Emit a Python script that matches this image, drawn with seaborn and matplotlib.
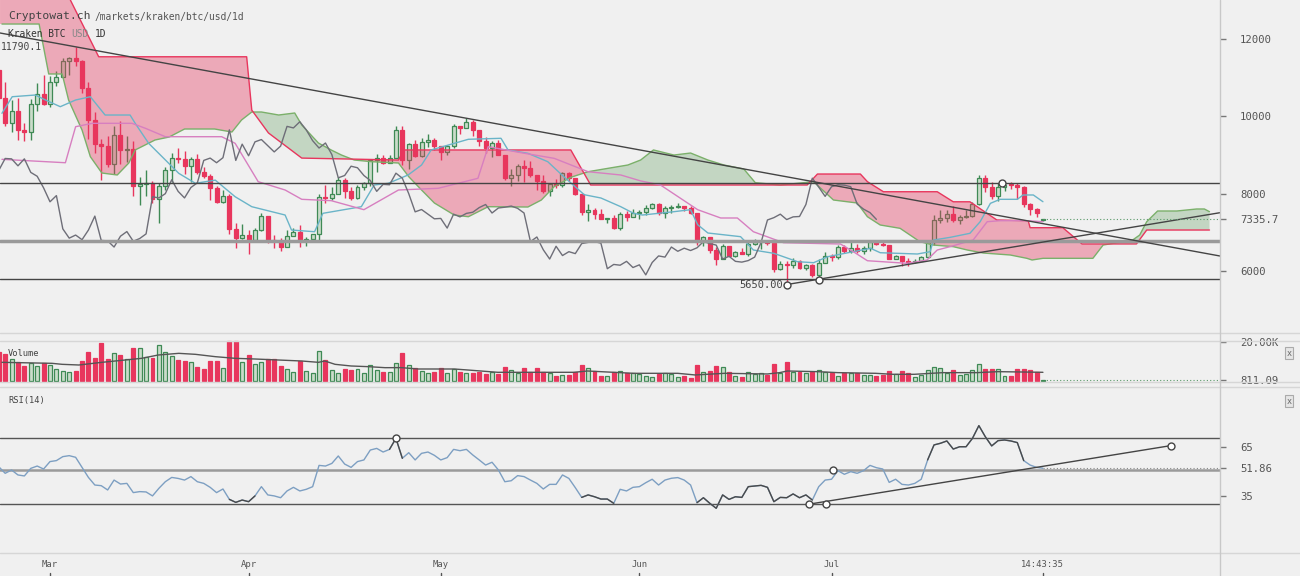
import numpy as np
import seaborn as sns
import matplotlib.pyplot as plt
from matplotlib.lines import Line2D

# Kraken BTC/USD daily candles, 21 Feb 2018 .. 3 Aug 2018
opens = [11200, 10470, 9830, 10150, 9650, 9590, 10320, 10570, 10320, 10900,
         11010, 11430, 11500, 11430, 10720, 9900, 9280, 9230, 8770, 9530,
         9140, 9150, 8200, 8260, 8270, 7870, 8200, 8600, 8910, 8900,
         8720, 8900, 8550, 8450, 8150, 7790, 7950, 7090, 6850, 6930,
         6810, 7060, 7420, 6790, 6780, 6620, 6900, 7020, 6770, 6840,
         6960, 7920, 7890, 8000, 8360, 8060, 7890, 8160, 8280, 8860,
         8920, 8800, 8930, 9650, 8860, 9280, 8980, 9340, 9400, 9240,
         9080, 9230, 9740, 9700, 9860, 9650, 9370, 9180, 9310, 9010,
         8410, 8470, 8710, 8670, 8470, 8340, 8060, 8240, 8230, 8530,
         8400, 8000, 7530, 7590, 7470, 7350, 7360, 7110, 7470, 7400,
         7490, 7520, 7640, 7720, 7500, 7630, 7650, 7680, 7620, 7500,
         6760, 6880, 6550, 6310, 6640, 6400, 6500, 6450, 6710, 6740,
         6760, 6720, 6060, 6170, 6150, 6250, 6090, 6160, 5900, 6220,
         6390, 6360, 6620, 6510, 6590, 6530, 6600, 6760, 6710, 6670,
         6310, 6380, 6250, 6230, 6270, 6360, 6740, 7320, 7380, 7470,
         7330, 7400, 7410, 7720, 8400, 8170, 7930, 8180, 8230, 8220,
         8180, 7730, 7600, 7310]
highs = [11280, 10880, 10420, 10480, 9830, 10450, 10870, 11070, 11050, 11170,
         11520, 11530, 11790.1, 11450, 10880, 10100, 9420, 9500, 9740, 9890,
         9480, 9350, 8420, 8600, 8340, 8270, 8700, 9050, 9180, 9100,
         8950, 9030, 8680, 8500, 8200, 8100, 7980, 7250, 7220, 7050,
         7120, 7510, 7430, 6920, 6850, 7070, 7110, 7180, 6890, 6970,
         8000, 8230, 8180, 8420, 8410, 8180, 8230, 8300, 8900, 9030,
         9000, 9000, 9740, 9750, 9300, 9380, 9450, 9550, 9450, 9240,
         9260, 9800, 9760, 9960, 9900, 9650, 9470, 9370, 9380, 9010,
         8650, 8770, 8870, 8840, 8470, 8470, 8270, 8380, 8570, 8560,
         8410, 8000, 7740, 7640, 7600, 7380, 7440, 7530, 7560, 7600,
         7590, 7700, 7760, 7750, 7680, 7700, 7750, 7690, 7680, 7500,
         6900, 6890, 6610, 6700, 6650, 6530, 6590, 6790, 6830, 6800,
         6790, 6730, 6260, 6250, 6340, 6290, 6180, 6170, 6300, 6500,
         6440, 6680, 6660, 6760, 6700, 6650, 6800, 6780, 6790, 6680,
         6420, 6390, 6340, 6320, 6400, 6750, 7460, 7580, 7570, 7690,
         7450, 7570, 7780, 8480, 8480, 8300, 8270, 8260, 8290, 8270,
         8200, 7760, 7620, 7350]
lows = [10400, 9750, 9600, 9400, 9350, 9400, 10150, 10300, 10230, 10780,
        11010, 11080, 11300, 10600, 9420, 9060, 8350, 8700, 8500, 8780,
        8830, 7950, 7700, 7950, 7760, 7250, 8100, 8300, 8800, 8500,
        8300, 8500, 8400, 7830, 7770, 7750, 6950, 6600, 6830, 6430,
        6770, 7040, 6720, 6600, 6520, 6620, 6900, 6620, 6650, 6820,
        6760, 7750, 7830, 8000, 7900, 7830, 7870, 8100, 8200, 8570,
        8760, 8790, 8930, 8730, 8650, 8950, 8950, 9200, 9130, 8860,
        9010, 9180, 9540, 9700, 9480, 9220, 9050, 8960, 9000, 8360,
        8200, 8320, 8300, 8430, 8100, 8030, 7950, 8150, 8170, 8330,
        7960, 7440, 7300, 7350, 7340, 7230, 7080, 7070, 7300, 7390,
        7350, 7460, 7610, 7450, 7370, 7510, 7640, 7560, 7480, 6670,
        6650, 6470, 6150, 6300, 6380, 6360, 6440, 6400, 6680, 6560,
        6680, 5970, 6030, 5650, 6090, 6060, 6030, 5850, 5767, 6200,
        6270, 6300, 6470, 6460, 6460, 6450, 6530, 6680, 6640, 6300,
        6300, 6120, 6130, 6220, 6260, 6340, 6660, 7250, 7280, 7270,
        7220, 7360, 7390, 7700, 8050, 7870, 7800, 8080, 8130, 7850,
        7650, 7450, 7400, 7300]
closes = [10470, 9830, 10150, 9650, 9590, 10320, 10570, 10320, 10900, 11010,
          11430, 11500, 11430, 10720, 9900, 9280, 9230, 8770, 9530, 9140,
          9150, 8200, 8260, 8270, 7870, 8200, 8600, 8910, 8900, 8720,
          8900, 8550, 8450, 8150, 7790, 7950, 7090, 6850, 6930, 6810,
          7060, 7420, 6790, 6780, 6620, 6900, 7020, 6770, 6840, 6960,
          7920, 7890, 8000, 8360, 8060, 7890, 8160, 8280, 8860, 8920,
          8800, 8930, 9650, 8860, 9280, 8980, 9340, 9400, 9240, 9080,
          9230, 9740, 9700, 9860, 9650, 9370, 9180, 9310, 9010, 8410,
          8470, 8710, 8670, 8470, 8340, 8060, 8240, 8230, 8530, 8400,
          8000, 7530, 7590, 7470, 7350, 7360, 7110, 7470, 7400, 7490,
          7520, 7640, 7720, 7500, 7630, 7650, 7680, 7620, 7500, 6760,
          6880, 6550, 6310, 6640, 6400, 6500, 6450, 6710, 6740, 6760,
          6720, 6060, 6170, 6150, 6250, 6090, 6160, 5900, 6220, 6390,
          6360, 6620, 6510, 6590, 6530, 6600, 6760, 6710, 6670, 6310,
          6380, 6250, 6230, 6270, 6360, 6740, 7320, 7380, 7470, 7330,
          7400, 7410, 7720, 8400, 8170, 7930, 8180, 8230, 8220, 8180,
          7730, 7600, 7510, 7335.7]
volumes = [14650, 14000, 11300, 9900, 7900, 9250, 7900, 9250, 8080, 6230,
           5220, 4880, 5390, 10600, 14650, 11800, 19500, 11450, 14140, 13470,
           11280, 16670, 16830, 12290, 11950, 18520, 14810, 12790, 10940, 10600,
           9760, 7400, 6400, 10600, 10600, 6730, 20700, 20700, 9760, 13470,
           8590, 9760, 11280, 11280, 7910, 6400, 4880, 10100, 5220, 4380,
           15320, 10940, 5720, 4380, 6400, 5720, 6060, 4040, 8250, 5720,
           4550, 4710, 9260, 14300, 8250, 6570, 5220, 4380, 4550, 6570,
           4380, 6400, 4880, 4380, 4040, 4550, 3870, 4880, 3870, 7400,
           5720, 4040, 6570, 4550, 6900, 4710, 4380, 2860, 3200, 3370,
           4880, 8250, 6730, 5050, 2860, 2860, 4550, 5220, 4040, 4040,
           3700, 2860, 2360, 3870, 4210, 3870, 2360, 2530, 1680, 8250,
           4550, 5390, 7910, 7240, 4710, 2860, 2020, 4550, 3540, 4380,
           3030, 8930, 4210, 9930, 4550, 4545, 4210, 4545, 5890, 4545,
           4210, 2860, 4210, 4210, 4040, 3030, 3030, 2860, 3030, 5050,
           3870, 5050, 4210, 2360, 3370, 5560, 7400, 6570, 4380, 5720,
           3200, 3540, 5890, 8750, 6230, 6230, 6230, 2530, 2530, 6230,
           6230, 5560, 4880, 811.09]
rsi = [52.8, 48.8, 50.8, 47.8, 47.2, 51.8, 53.2, 51.4, 55.9, 56.5,
       58.9, 59.5, 58.5, 52.4, 46.3, 41.7, 41.3, 38.7, 44.7, 42.3,
       42.7, 37.1, 37.7, 37.5, 35.1, 39.7, 43.7, 46.3, 45.7, 44.7,
       46.8, 43.7, 42.7, 40.3, 37.1, 39.3, 33.0, 31.2, 32.6, 31.6,
       35.1, 40.7, 35.7, 35.1, 34.0, 38.1, 40.3, 38.1, 39.1, 40.7,
       53.6, 53.2, 54.8, 59.3, 54.4, 52.4, 55.9, 56.9, 62.9, 63.9,
       61.7, 63.3, 70.0, 57.9, 61.3, 56.9, 60.9, 61.7, 59.7, 56.9,
       58.3, 63.3, 62.5, 63.3, 59.9, 56.9, 53.8, 55.5, 50.8, 43.7,
       44.3, 47.4, 46.8, 44.7, 42.7, 39.3, 42.1, 42.1, 47.8, 45.7,
       40.1, 34.2, 35.7, 34.6, 33.2, 33.2, 30.6, 39.1, 38.1, 40.3,
       40.7, 43.1, 45.2, 41.7, 44.7, 45.8, 46.2, 44.7, 41.7, 31.0,
       34.0, 30.6, 27.6, 35.7, 33.0, 34.6, 34.2, 40.7, 41.1, 41.5,
       40.3, 31.6, 34.2, 34.0, 36.3, 34.0, 35.7, 32.6, 40.7, 44.7,
       45.2, 50.4, 48.2, 49.8, 48.8, 50.4, 53.6, 52.2, 51.4, 43.3,
       45.2, 42.1, 41.7, 42.7, 45.2, 56.9, 66.0, 67.0, 68.4, 63.5,
       64.9, 64.9, 70.0, 77.7, 71.0, 65.4, 68.6, 69.0, 68.4, 67.4,
       56.5, 53.8, 52.4, 51.86]
rsi_dark = [(36, 40), (61, 63), (91, 96), (109, 127), (145, 160)]

# Ichimoku lines (day offset, price)
tenkan_day = [0.5, 2.1, 5.7, 7.3, 9.6, 12, 14.3, 16.6, 20.5, 21.3, 23.4, 25.5, 28.1, 30.7, 33.8,
              36.9, 39.5, 44.7, 45.7, 49.3, 50.6, 56.6, 58.6, 60.8, 63.9, 66, 67.5, 73.3, 78.4,
              79.5, 82.6, 85.7, 88.2, 91.4, 94, 97.1, 99.1, 100.5, 105.4, 108, 109.1, 110.7,
              115.8, 117.8, 121, 124.7, 127.2, 129.4, 133.4, 136.1, 137.6, 143.4, 145.4, 145.9,
              148.5, 151.6, 153.2, 154.8, 156.3, 159, 159.9, 161.5, 163]
tenkan_val = [10078, 10507, 10551, 10422, 10249, 10422, 10507, 10034, 10034, 9819, 9302, 8956,
              8526, 8268, 8350, 7921, 7663, 7448, 7060, 7016, 7492, 7663, 8224, 8268, 8483, 8741,
              9130, 9406, 9432, 9130, 9044, 8827, 8439, 7973, 7888, 7663, 7492, 7448, 7534, 7586,
              7198, 6983, 6888, 6543, 6457, 6241, 6215, 6370, 6500, 6587, 6473, 6440, 6500, 6801,
              6870, 6975, 7275, 7750, 7854, 7854, 7966, 7966, 7792]
kijun_day = [0.5, 10.4, 12, 14.6, 20.8, 22.9, 26, 34.8, 36.9, 40.5, 44.7, 47.3, 51.9, 57, 62.4,
             68.6, 74.8, 76.4, 81.5, 86.7, 92, 97.1, 100.2, 103.3, 109.1, 112.7, 115.3, 117.8,
             122.5, 131.4, 133.4, 135.6, 141.8, 144.9, 146.5, 148.5, 152.1, 154.3, 156.3, 160.5, 163]
kijun_val = [8888, 8800, 9732, 9819, 9819, 9690, 9473, 9473, 9302, 8310, 8095, 7854, 7819, 7586,
             8095, 8139, 8397, 9215, 9060, 8914, 8568, 8483, 8330, 8224, 7586, 7371, 7371, 7016,
             6732, 6698, 6500, 6266, 6199, 6284, 6543, 6630, 6801, 7275, 7301, 7301, 7275]
spanA_day = [0.5, 6.3, 7.8, 9.9, 10.9, 13, 14.3, 16.1, 18.5, 20.3, 21.3, 24.4, 26.6, 29, 33.7,
             36.4, 37.9, 39.5, 41, 43.7, 46.2, 47.3, 49.9, 51.9, 53.5, 55.5, 58.2, 62.4, 64, 66,
             68, 71.1, 73.3, 76.4, 82.6, 84.7, 86.7, 89.3, 92, 95.1, 98.2, 100.2, 102.2, 105.4,
             108, 110.7, 113.2, 116.3, 118.1, 122, 127.2, 130.3, 134, 135.6, 137.6, 140.7, 143.8,
             145.9, 149, 151.2, 153.7, 157.9, 160.5, 161.3, 163, 170.8, 172.4, 174.5, 177, 178.1,
             179.2, 180.9, 183.9, 187, 188.2, 189]
spanA_val = [12387, 12387, 11095, 11095, 10422, 9646, 8956, 8534, 8483, 8793, 9130, 9388, 9465,
             9672, 9672, 9594, 9905, 10112, 10112, 10034, 10086, 9776, 9310, 9129, 8999, 8870,
             8827, 8793, 8439, 8095, 7759, 7448, 7404, 7663, 7655, 7836, 8180, 8423, 8568, 8655,
             8741, 8870, 9130, 8999, 9051, 8870, 8741, 8638, 8284, 8224, 8309, 7836, 7759, 7404,
             7190, 7104, 6758, 6672, 6630, 6543, 6465, 6414, 6328, 6285, 6328, 6328, 6672, 6730,
             6801, 6930, 7275, 7552, 7552, 7604, 7604, 7534]
spanB_day = [0.5, 10, 11.2, 15.6, 38.7, 39.5, 42.1, 47.3, 62.4, 63.2, 89.3, 92.4, 126.2, 127.8,
             134.5, 135.6, 138.1, 146.5, 149, 151.6, 155.8, 160.7, 161, 166.1, 169.1, 177.6, 179.2, 189]
spanB_val = [13600, 13600, 13000, 11540, 11540, 10160, 9570, 8920, 8870, 9130, 9130, 8224, 8224,
             8508, 8508, 8310, 8050, 8050, 7790, 7790, 7320, 7300, 7120, 7120, 6700, 6700, 7060, 7060]
volma_day = [0.5, 8.3, 9.9, 12.5, 16.1, 18.7, 22.3, 24.9, 28.1, 30.7, 33.8, 36.9, 40, 43.6, 47.3,
             49.9, 50.9, 52.5, 55, 57.7, 60.3, 62.8, 65.5, 71.1, 73.2, 77.9, 89.8, 91.9, 99.1, 106,
             108.7, 113.3, 120, 121.9, 123.1, 127.8, 131, 136.9, 139.6, 142.9, 147.4, 152.7, 156, 163]
volma_val = [9680, 9180, 8670, 8330, 9680, 10520, 11700, 13380, 14220, 13720, 12540, 11700, 11360,
             10860, 10350, 9680, 10350, 8670, 7830, 7490, 6980, 7000, 6310, 6310, 5810, 4640, 4640,
             5300, 4130, 4130, 3300, 4130, 3800, 4470, 5300, 4970, 4470, 4130, 3630, 3630, 4470,
             4470, 4970, 4640]

month_pos = [8, 39, 69, 100, 130, 163]
month_lbl = ["Mar", "Apr", "May", "Jun", "Jul", "14:43:35"]
last_price = 7335.7

W, H = 1300, 576
BG = "#f0f0f0"
RED = "#e8365d"
GREEN = "#3f8a55"
GREEN_FILL = "#cadcca"
XMIN, XMAX = 0.195, 190.64

sns.set_theme(style="white", rc={"figure.facecolor": BG, "axes.facecolor": BG,
                                 "savefig.facecolor": BG})
plt.rcParams["font.family"] = ["DejaVu Sans Mono"]

fig = plt.figure(figsize=(13, 5.76), dpi=100)


def panel(top, bottom):
    ax = fig.add_axes([0, 1 - bottom / H, 1220 / W, (bottom - top) / H])
    ax.set_facecolor("none")
    ax.set_xlim(XMIN, XMAX)
    for s in ax.spines.values():
        s.set_visible(False)
    ax.set_xticks([])
    ax.yaxis.tick_right()
    ax.tick_params(axis="y", length=4.5, width=1, color="#777", labelcolor="#555",
                   labelsize=7.7, pad=10)
    return ax


days = np.arange(len(closes))
o = np.array(opens)
c = np.array(closes)
up = c >= o
edge = [GREEN if u else RED for u in up]
face = [GREEN_FILL if u else RED for u in up]

# ---------------- price panel ----------------
ax = panel(0, 332)
ax.set_ylim(4423, 13008)
ax.vlines(days, lows, highs, colors=edge, lw=1, zorder=2)
ax.bar(days, np.maximum(np.abs(c - o), 18), bottom=np.minimum(o, c), width=0.62,
       color=face, edgecolor=edge, linewidth=0.9, zorder=3)

g = np.linspace(0.2, 189, 3000)
a = np.interp(g, spanA_day, spanA_val)
b = np.interp(g, spanB_day, spanB_val)
ax.fill_between(g, a, b, where=b >= a, interpolate=True, color=RED, alpha=0.38, lw=0, zorder=4)
ax.fill_between(g, a, b, where=a > b, interpolate=True, color="#5d9c58", alpha=0.3, lw=0, zorder=4)
ax.plot(spanA_day, spanA_val, color="#7bb06a", lw=1, zorder=5)
ax.plot(spanB_day, spanB_val, color=RED, lw=1, zorder=5)

sns.lineplot(x=tenkan_day, y=tenkan_val, ax=ax, color="#6ab4c8", lw=1, zorder=6)
sns.lineplot(x=kijun_day, y=kijun_val, ax=ax, color="#d77fc0", lw=1, zorder=6)
sns.lineplot(x=days[26:] - 26, y=c[26:], ax=ax, color="#6e6e78", lw=1, zorder=6)

ax.axhline(8276, color="#444", lw=1, zorder=7)
ax.axhline(6771, color="#9a9a9a", lw=2.5, zorder=7)
ax.axhline(5793, color="#444", lw=1, zorder=7)
ax.plot([XMIN, XMAX], [12155, 6388], color="#444", lw=1, zorder=7)
ax.plot([123, XMAX], [5650, 7508], color="#444", lw=1, zorder=7)
ax.plot([123, 128.1, 156.6], [5650, 5767, 8276], "o", mfc="white", mec="#444", ms=5,
        mew=1, zorder=8)
ax.plot([163, XMAX], [last_price] * 2, ls=(0, (1, 2)), color="#5a9a6a", lw=0.8, zorder=7)
ax.text(122.4, 5650, "5650.00", ha="right", va="center", fontsize=7.5, color="#444")
ax.set_yticks([6000, 8000, 10000, 12000, last_price])
ax.set_yticklabels(["6000", "8000", "10000", "12000", "7335.7"])
ax.yaxis.get_major_ticks()[4].tick2line.set_color("#5a9a6a")
ax.set_ylabel("")

# ---------------- volume panel ----------------
axv = panel(333, 387)
axv.set_ylim(-2780, 24490)
axv.bar(days, volumes, width=0.62, color=face, edgecolor=edge, linewidth=0.9, zorder=3)
sns.lineplot(x=volma_day, y=volma_val, ax=axv, color="#555", lw=1, zorder=4)
axv.plot([163, XMAX], [811.09] * 2, ls=(0, (1, 2)), color="#5a9a6a", lw=0.8)
axv.set_yticks([811.09, 20000])
axv.set_yticklabels(["811.09", "20.00K"])
axv.set_ylabel("")

# ---------------- RSI panel ----------------
axr = panel(388, 553)
axr.set_ylim(0.5, 100.5)
axr.axhline(70, color="#555", lw=1)
axr.axhline(51, color="#9a9a9a", lw=1.8)
axr.axhline(30, color="#555", lw=1)
sns.lineplot(x=days, y=rsi, ax=axr, color="#7d9fc2", lw=1, zorder=3)
r = np.array(rsi)
for s0, s1 in rsi_dark:
    axr.plot(days[s0:s1 + 1], r[s0:s1 + 1], color="#4a4a4a", lw=1, zorder=4)
axr.plot([126.5, 183], [30.1, 65.6], color="#444", lw=1, zorder=5)
axr.plot([126.5, 129.1, 130.2, 183, 62], [30.1, 30.1, 50.9, 65.6, 70], "o", mfc="white",
         mec="#444", ms=5, mew=1, zorder=6)
axr.plot([163, XMAX], [51.86] * 2, ls=(0, (1, 2)), color="#888", lw=0.8)
axr.set_yticks([35, 51.86, 65])
axr.set_yticklabels(["35", "51.86", "65"])
axr.set_ylabel("")

# ---------------- date strip ----------------
axd = fig.add_axes([0, 0, 1220 / W, 23 / H])
axd.set_facecolor("none")
axd.set_xlim(XMIN, XMAX)
axd.set_ylim(0, 1)
axd.axis("off")
for p, lbl in zip(month_pos, month_lbl):
    axd.text(p, 0.48, lbl, ha="center", va="center", fontsize=6.4, color="#555")
    axd.plot([p, p], [0, 0.15], color="#555", lw=1)

# frame lines
for yy in [333, 341, 382, 387, 553]:
    fig.add_artist(Line2D([0, 1], [1 - yy / H] * 2, color="#d6d6d6", lw=1))
fig.add_artist(Line2D([1220 / W] * 2, [0, 1], color="#c8c8c8", lw=1))

# header texts
fig.text(8 / W, 1 - 16 / H, "Cryptowat.ch", fontsize=8.2, color="#444", va="center")
fig.text(95 / W, 1 - 17 / H, "/markets/kraken/btc/usd/1d", fontsize=6.9, color="#555", va="center")
fig.text(8 / W, 1 - 34 / H, "Kraken BTC", fontsize=6.9, color="#333", va="center")
fig.text(71.5 / W, 1 - 34 / H, "USD", fontsize=6.9, color="#888", va="center")
fig.text(94.5 / W, 1 - 34 / H, "1D", fontsize=6.9, color="#333", va="center")
fig.text(1 / W, 1 - 47 / H, "11790.1", fontsize=7.0, color="#444", va="center")
fig.text(8 / W, 1 - 354 / H, "Volume", fontsize=6.3, color="#444", va="center")
fig.text(8 / W, 1 - 401 / H, "RSI(14)", fontsize=6.3, color="#444", va="center")
for yy in [353, 401]:
    fig.text(1289 / W, 1 - yy / H, "x", fontsize=6, ha="center", va="center", color="#666",
             bbox=dict(boxstyle="square,pad=0.2", fc="#e6e6e6", ec="#aaa", lw=0.8))

fig.savefig("out.png", dpi=100, facecolor=BG)
plt.close(fig)
